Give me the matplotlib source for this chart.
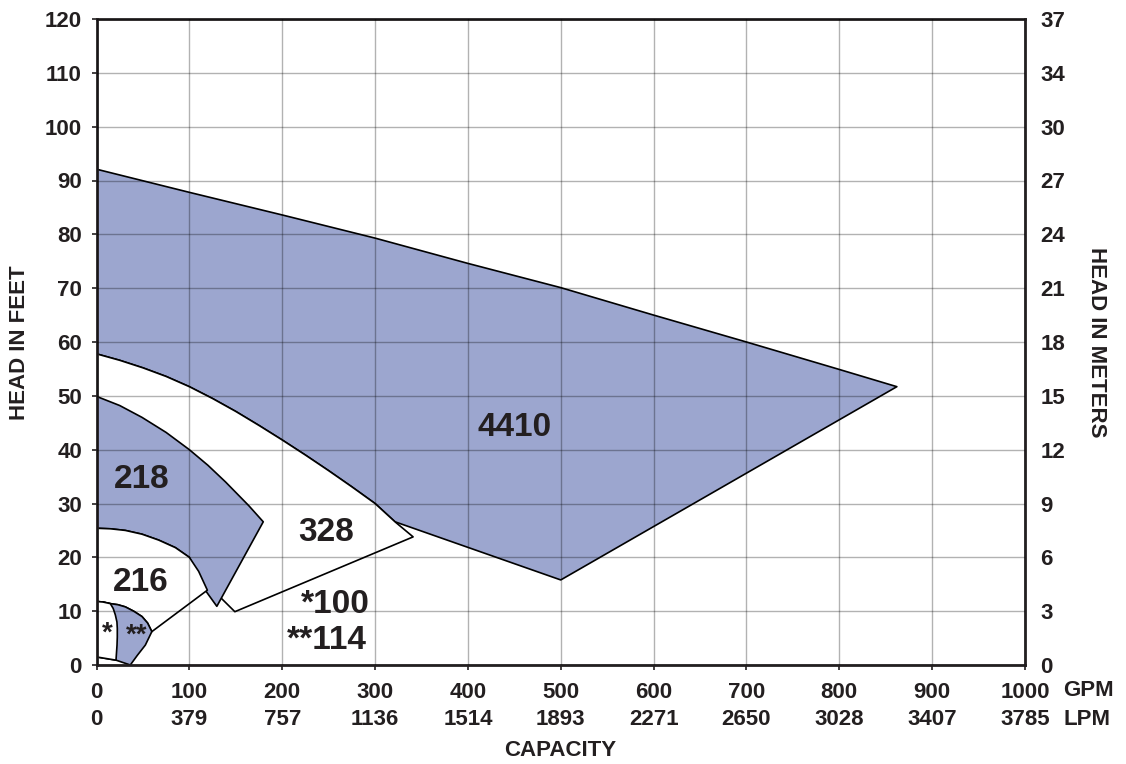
import numpy as np
import matplotlib
matplotlib.use("Agg")
import matplotlib.pyplot as plt
from matplotlib.patches import Polygon

plt.rcParams['font.family'] = ['Liberation Sans', 'DejaVu Sans']
plt.rcParams['font.weight'] = 'bold'

ink = '#231f20'
blue = '#9ca6cf'

# axis ticks
gpm_ticks = [0, 100, 200, 300, 400, 500, 600, 700, 800, 900, 1000]
lpm_labels = ['0', '379', '757', '1136', '1514', '1893', '2271', '2650', '3028', '3407', '3785']
feet_ticks = [0, 10, 20, 30, 40, 50, 60, 70, 80, 90, 100, 110, 120]
meter_labels = ['0', '3', '6', '9', '12', '15', '18', '21', '24', '27', '30', '34', '37']

# model 4410 (capacity GPM, head ft)
top_4410_q = [0, 100, 200, 300, 400, 500, 600, 700, 800, 862]
top_4410_h = [92.1, 87.8, 83.6, 79.3, 74.6, 70.1, 65.0, 60.0, 54.9, 51.7]
low_4410_q = [862, 500, 321.5]
low_4410_h = [51.7, 15.8, 26.6]

# model 328
top_328_q = [0, 25, 50, 75, 100, 125, 150, 175, 200, 225, 250, 275, 300, 321.5, 341]
top_328_h = [57.8, 56.6, 55.2, 53.6, 51.7, 49.5, 47.1, 44.5, 41.8, 39.0, 36.1, 33.1, 30.0, 26.6, 23.8]
low_328_q = [149, 125, 60, 0]
low_328_h = [9.9, 14.0, 14.0, 14.0]

# model 218
top_218_q = [0, 25, 49, 75, 100, 120, 139, 164, 179.6]
top_218_h = [49.9, 48.2, 46.0, 43.2, 40.0, 37.1, 34.0, 29.6, 26.6]
tip_218_q = [129.6, 117.1]
tip_218_h = [10.9, 13.9]

# model 216
top_216_q = [0, 15, 31, 49, 67, 85, 100, 110, 119.4]
top_216_h = [25.4, 25.3, 25.0, 24.3, 23.2, 21.8, 20.0, 17.4, 13.9]
low_216_q = [59.6]
low_216_h = [6.2]

# model 114
top_114_q = [0, 7, 14.9, 23, 31, 40, 49, 55, 59.6]
top_114_h = [11.8, 11.7, 11.4, 11.2, 10.8, 10.0, 9.0, 7.8, 6.2]
right_114_q = [52.6, 44, 36.4, 21, 0]
right_114_h = [3.7, 1.8, 0.0, 0.9, 1.5]

# model 100
edge_100_q = [14.9, 18, 20.3, 22.0, 22.4, 22.4, 22.1, 21]
edge_100_h = [11.4, 10.5, 9.3, 8.0, 6.8, 5.2, 3.7, 0.9]

labels = ['4410', '218', '328', '216', '*100', '**114', '*', '**']
label_q = [450, 49, 247, 48, 257, 248, 11.3, 43.6]
label_h = [44.2, 34.4, 24.7, 15.4, 11.3, 4.6, 5.8, 5.5]
label_size = [24, 24, 24, 24, 24, 24, 20, 20]


def pts(q, h):
    return list(zip(q, h))


def region(ax, vertices, color):
    ax.add_patch(Polygon(vertices, closed=True, facecolor=color,
                         edgecolor='black', linewidth=1.2, zorder=1,
                         joinstyle='round'))


fig = plt.figure(figsize=(11.26, 7.64), dpi=100)
ax = fig.add_axes([96.5 / 1126, 99 / 764, 928.5 / 1126, 646 / 764])

shape_4410 = pts(top_4410_q, top_4410_h) + pts(low_4410_q, low_4410_h) \
    + pts(top_328_q[::-1][2:], top_328_h[::-1][2:])
shape_328 = pts(top_328_q, top_328_h) + pts(low_328_q, low_328_h)
shape_218 = pts(top_218_q, top_218_h) + pts(tip_218_q, tip_218_h) \
    + pts(top_216_q[::-1][2:], top_216_h[::-1][2:])
shape_216 = pts(top_216_q, top_216_h) + pts(low_216_q, low_216_h) \
    + pts(top_114_q[::-1][1:], top_114_h[::-1][1:])
shape_114 = pts(top_114_q, top_114_h) + pts(right_114_q, right_114_h)
shape_100 = pts(top_114_q[:3], top_114_h[:3]) + pts(edge_100_q[1:], edge_100_h[1:]) + [(0, 1.5)]

region(ax, shape_4410, blue)
region(ax, shape_328, 'white')
region(ax, shape_218, blue)
region(ax, shape_216, 'white')
region(ax, shape_114, blue)
region(ax, shape_100, 'white')

for t, q, h, s in zip(labels, label_q, label_h, label_size):
    ax.text(q, h, t, ha='center', va='center', fontsize=s,
            fontweight='bold', color=ink, zorder=4)

ax.set_xlim(0, 1000)
ax.set_ylim(0, 120)
ax.set_xticks(gpm_ticks)
ax.set_yticks(feet_ticks)
ax.set_xticklabels([str(g) for g in gpm_ticks])
ax.set_axisbelow(False)
ax.grid(True, color='black', alpha=0.3, linewidth=1.0)
ax.tick_params(axis='both', labelsize=16, colors=ink, length=3.5, width=1.2,
               direction='out')
ax.tick_params(axis='x', pad=9)
ax.tick_params(axis='y', pad=7)
for lbl in ax.get_xticklabels() + ax.get_yticklabels():
    lbl.set_fontweight('bold')
for sp in ax.spines.values():
    sp.set_linewidth(2)
    sp.set_color(ink)

for g, l in zip(gpm_ticks, lpm_labels):
    ax.text(g, -0.0851, l, transform=ax.get_xaxis_transform(), ha='center',
            va='center', fontsize=16, fontweight='bold', color=ink)
ax.text(1.041, -0.0402, 'GPM', transform=ax.transAxes, ha='left', va='center',
        fontsize=16, fontweight='bold', color=ink)
ax.text(1.041, -0.0851, 'LPM', transform=ax.transAxes, ha='left', va='center',
        fontsize=16, fontweight='bold', color=ink)

ax2 = ax.twinx()
ax2.set_ylim(0, 120)
ax2.set_yticks(feet_ticks)
ax2.set_yticklabels(meter_labels)
ax2.tick_params(axis='y', labelsize=16, colors=ink, length=0, pad=11)
for lbl in ax2.get_yticklabels():
    lbl.set_fontweight('bold')
for sp in ax2.spines.values():
    sp.set_visible(False)

ax.set_xlabel('CAPACITY', fontsize=16, fontweight='bold', color=ink)
ax.xaxis.set_label_coords(0.499, -0.1316)
ax.xaxis.label.set_va('center')
ax.set_ylabel('HEAD IN FEET', fontsize=16, fontweight='bold', color=ink)
ax.yaxis.set_label_coords(-0.0824, 0.499)
ax.yaxis.label.set_va('center')
ax2.set_ylabel('HEAD IN METERS', fontsize=16, fontweight='bold', color=ink,
               rotation=-90)
ax2.yaxis.set_label_coords(1.0775, 0.499)
ax2.yaxis.label.set_va('center')

fig.savefig('out.png', dpi=100)
